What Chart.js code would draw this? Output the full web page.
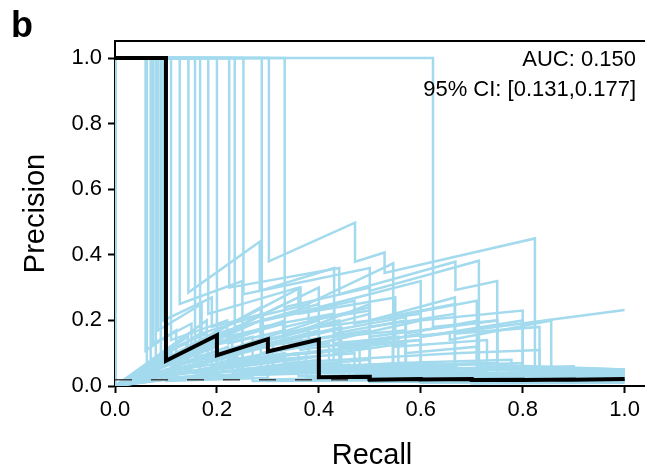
<!DOCTYPE html>
<html><head><meta charset="utf-8">
<script src="https://cdn.jsdelivr.net/npm/chart.js@4.4.0/dist/chart.umd.min.js"></script>
<style>html,body{margin:0;padding:0;background:#fff}#wrap{width:645px;height:472px;position:relative}</style>
</head><body><div id="wrap"><canvas id="c" width="645" height="472"></canvas></div>
<script>
// ---------------- data ----------------
const xTicks = [0, 0.2, 0.4, 0.6, 0.8, 1.0];
const yTicks = [0, 0.2, 0.4, 0.6, 0.8, 1.0];
const xLabel = "Recall";
const yLabel = "Precision";
const panelLabel = "b";
const annotation = ["AUC: 0.150", "95% CI: [0.131,0.177]"];
const baselinePrecision = 0.019;

// main precision-recall curve [recall, precision]
const mainCurve = [[0,1],[0.1,1],[0.1,0.077],[0.2,0.155],[0.2,0.094],[0.3,0.143],[0.3,0.105],[0.4,0.142],[0.4,0.027],[0.5,0.028],[0.5,0.019],[0.6,0.021],[0.6,0.02],[0.7,0.021],[0.7,0.018],[0.8,0.019],[0.8,0.018],[0.9,0.02],[0.9,0.019],[1,0.021]];

// bootstrap precision-recall curves [recall, precision]
const bootCurves = [
 [[0,1],[0.06,1],[0.06,0.108],[0.12,0.17],[0.12,0.1],[0.19,0.13],[0.19,0.06],[0.31,0.085],[0.31,0.04],[0.5,0.05],[0.5,0.03],[0.75,0.035],[0.75,0.025],[1,0.028]],
 [[0,1],[0.07,1],[0.07,0.08],[0.14,0.13],[0.14,0.075],[0.21,0.1],[0.21,0.045],[0.36,0.065],[0.36,0.03],[0.57,0.035],[0.57,0.02],[1,0.022]],
 [[0,1],[0.075,1],[0.075,0.13],[0.15,0.19],[0.15,0.12],[0.23,0.16],[0.23,0.1],[0.31,0.125],[0.31,0.05],[0.46,0.065],[0.46,0.03],[0.69,0.035],[0.69,0.025],[1,0.03]],
 [[0,1],[0.08,1],[0.08,0.06],[0.16,0.1],[0.16,0.07],[0.24,0.09],[0.24,0.05],[0.4,0.07],[0.4,0.03],[0.64,0.035],[0.64,0.018],[1,0.02]],
 [[0,1],[0.085,1],[0.085,0.17],[0.17,0.25],[0.17,0.16],[0.25,0.2],[0.25,0.12],[0.33,0.15],[0.33,0.11],[0.42,0.13],[0.42,0.05],[0.58,0.06],[0.58,0.03],[1,0.035]],
 [[0,1],[0.09,1],[0.09,0.1],[0.18,0.16],[0.18,0.12],[0.27,0.15],[0.27,0.08],[0.36,0.1],[0.36,0.04],[0.55,0.05],[0.55,0.025],[1,0.028]],
 [[0,1],[0.095,1],[0.095,0.2],[0.19,0.27],[0.19,0.18],[0.29,0.22],[0.29,0.14],[0.38,0.17],[0.38,0.1],[0.48,0.12],[0.48,0.04],[0.67,0.05],[0.67,0.03],[1,0.033]],
 [[0,1],[0.11,1],[0.11,0.14],[0.22,0.2],[0.22,0.15],[0.33,0.19],[0.33,0.16],[0.44,0.2],[0.44,0.06],[0.56,0.07],[0.56,0.03],[1,0.035]],
 [[0,1],[0.127,1],[0.127,0.25],[0.25,0.32],[0.25,0.2],[0.38,0.25],[0.38,0.2],[0.5,0.23],[0.5,0.06],[0.63,0.07],[0.63,0.03],[1,0.035]],
 [[0,1],[0.144,1],[0.144,0.285],[0.284,0.44],[0.284,0.29],[0.43,0.36],[0.43,0.15],[0.57,0.17],[0.57,0.05],[0.71,0.055],[0.71,0.03],[1,0.035]],
 [[0,1],[0.157,1],[0.157,0.09],[0.31,0.13],[0.31,0.08],[0.47,0.1],[0.47,0.04],[0.63,0.045],[0.63,0.02],[1,0.022]],
 [[0,1],[0.167,1],[0.167,0.12],[0.33,0.19],[0.33,0.13],[0.5,0.17],[0.5,0.05],[0.67,0.06],[0.67,0.025],[1,0.028]],
 [[0,1],[0.183,1],[0.183,0.22],[0.36,0.3],[0.36,0.22],[0.55,0.27],[0.55,0.12],[0.73,0.14],[0.73,0.04],[1,0.045]],
 [[0,1],[0.2,1],[0.2,0.16],[0.4,0.25],[0.4,0.18],[0.6,0.22],[0.6,0.06],[0.8,0.07],[0.8,0.03],[1,0.035]],
 [[0,1],[0.224,1],[0.224,0.3],[0.44,0.36],[0.44,0.28],[0.668,0.379],[0.668,0.293],[0.75,0.32],[0.75,0.064],[1,0.05]],
 [[0,1],[0.235,1],[0.235,0.18],[0.47,0.26],[0.47,0.19],[0.71,0.26],[0.71,0.05],[1,0.045]],
 [[0,1],[0.252,1],[0.252,0.28],[0.5,0.36],[0.5,0.29],[0.714,0.382],[0.714,0.06],[1,0.05]],
 [[0,1],[0.288,1],[0.288,0.2],[0.43,0.25],[0.43,0.16],[0.57,0.2],[0.57,0.1],[0.71,0.12],[0.71,0.04],[1,0.04]],
 [[0,1],[0.302,1],[0.302,0.38],[0.471,0.498],[0.471,0.379],[0.529,0.407],[0.529,0.345],[0.824,0.45],[0.824,0.049],[1,0.045]],
 [[0,1],[0.333,1],[0.333,0.24],[0.5,0.3],[0.5,0.2],[0.667,0.25],[0.667,0.1],[0.833,0.11],[0.833,0.04],[1,0.04]],
 [[0,1],[0.624,1],[0.624,0.18],[0.75,0.2],[0.75,0.05],[0.875,0.055],[0.875,0.035],[1,0.038]],
 [[0,1],[0.1,1],[0.1,0.07],[0.2,0.12],[0.2,0.06],[0.3,0.08],[0.3,0.04],[0.5,0.05],[0.5,0.025],[1,0.028]],
 [[0,1],[0.0625,1],[0.0625,0.05],[0.125,0.08],[0.125,0.05],[0.25,0.08],[0.25,0.04],[0.375,0.05],[0.375,0.025],[1,0.022]],
 [[0,1],[0,0],[0.1,0.05],[0.1,0.03],[0.2,0.05],[0.2,0.03],[0.4,0.04],[0.4,0.02],[1,0.018]],
 [[0,1],[0,0],[0.125,0.1],[0.125,0.07],[0.25,0.11],[0.25,0.08],[0.375,0.1],[0.375,0.04],[0.625,0.045],[0.625,0.02],[1,0.02]],
 [[0,1],[0,0],[0.143,0.15],[0.143,0.1],[0.286,0.17],[0.286,0.12],[0.429,0.15],[0.429,0.05],[0.714,0.055],[0.714,0.025],[1,0.025]],
 [[0,1],[0,0],[0.18,0.2],[0.18,0.15],[0.364,0.3],[0.364,0.24],[0.546,0.374],[0.546,0.04],[0.727,0.045],[0.727,0.03],[1,0.032]],
 [[0,1],[0,0],[0.167,0.07],[0.167,0.05],[0.333,0.09],[0.333,0.06],[0.5,0.08],[0.5,0.03],[1,0.03]],
 [[0,1],[0,0],[0.111,0.08],[0.111,0.05],[0.222,0.09],[0.222,0.07],[0.333,0.1],[0.333,0.05],[0.444,0.07],[0.444,0.03],[0.667,0.035],[0.667,0.02],[1,0.022]],
 [[0,1],[0,0],[0.2,0.12],[0.2,0.09],[0.4,0.17],[0.4,0.13],[0.6,0.2],[0.6,0.15],[0.8,0.2],[0.8,0.04],[1,0.04]],
 [[0,1],[0,0],[0.25,0.18],[0.25,0.12],[0.5,0.22],[0.5,0.15],[0.75,0.2],[0.75,0.04],[1,0.042]],
 [[0,1],[0,0],[0.143,0.06],[0.143,0.04],[0.286,0.07],[0.286,0.05],[0.571,0.07],[0.571,0.025],[1,0.026]],
 [[0,1],[0,0],[0.2,0.08],[0.2,0.05],[0.4,0.09],[0.4,0.04],[0.6,0.05],[0.6,0.022],[1,0.024]],
 [[0,1],[0,0],[0.286,0.2],[0.286,0.12],[0.429,0.17],[0.429,0.13],[0.657,0.162],[0.657,0.14],[0.856,0.2],[0.856,0.044],[1,0.045]],
 [[0,1],[0,0],[0.2,0.1],[0.2,0.07],[0.4,0.13],[0.4,0.1],[0.6,0.16],[0.6,0.15],[1,0.232]],
 [[0,1],[0,0],[0.1,0.04],[0.1,0.025],[0.3,0.04],[0.3,0.02],[0.5,0.025],[0.5,0.012],[1,0.015]],
 [[0,1],[0,0],[0.09,0.03],[0.09,0.02],[0.27,0.03],[0.27,0.015],[0.6,0.02],[0.6,0.01],[1,0.012]],
 [[0,1],[0,0],[0.25,0.1],[0.25,0.08],[0.5,0.12],[0.5,0.06],[0.75,0.07],[0.75,0.03],[1,0.032]],
 [[0,1],[0,0],[0.167,0.16],[0.167,0.11],[0.333,0.2],[0.333,0.15],[0.5,0.25],[0.5,0.18],[0.667,0.22],[0.667,0.05],[1,0.045]],
 [[0,1],[0,0],[0.333,0.25],[0.333,0.18],[0.5,0.24],[0.5,0.2],[0.667,0.27],[0.667,0.16],[0.833,0.18],[0.833,0.05],[1,0.05]],
 [[0,1],[0,0],[0.3,0.12],[0.3,0.09],[0.6,0.14],[0.6,0.05],[0.9,0.06],[0.9,0.03],[1,0.033]],
 [[0,1],[0,0],[0.4,0.3],[0.4,0.24],[0.6,0.32],[0.6,0.2],[0.8,0.23],[0.8,0.04],[1,0.04]],
 [[0,1],[0,0],[0.15,0.05],[0.15,0.04],[0.45,0.06],[0.45,0.02],[1,0.02]],
 [[0,1],[0,0],[0.111,0.1],[0.111,0.06],[0.222,0.12],[0.222,0.08],[0.444,0.11],[0.444,0.05],[0.667,0.06],[0.667,0.03],[1,0.03]],
 [[0,1],[0,0],[0.077,0.04],[0.077,0.03],[0.231,0.06],[0.231,0.04],[0.385,0.06],[0.385,0.03],[0.692,0.035],[0.692,0.02],[1,0.021]],
 [[0,1],[0,0],[0.125,0.06],[0.125,0.04],[0.25,0.07],[0.25,0.05],[0.375,0.07],[0.375,0.05],[0.5,0.06],[0.5,0.035],[0.75,0.04],[0.75,0.025],[1,0.026]],
 [[0,1],[0,0],[0.2,0.15],[0.2,0.1],[0.4,0.2],[0.4,0.12],[0.6,0.14],[0.6,0.04],[1,0.038]],
 [[0,1],[0,0],[0.182,0.12],[0.182,0.08],[0.364,0.15],[0.364,0.11],[0.545,0.15],[0.545,0.06],[0.727,0.07],[0.727,0.03],[1,0.03]],
 [[0,1],[0,0],[0.143,0.09],[0.143,0.07],[0.286,0.12],[0.286,0.1],[0.429,0.14],[0.429,0.1],[0.571,0.13],[0.571,0.04],[1,0.036]],
 [[0,1],[0,0],[0.25,0.05],[0.25,0.035],[0.5,0.05],[0.5,0.02],[1,0.02]],
 [[0,1],[0,0],[0.333,0.1],[0.333,0.07],[0.667,0.1],[0.667,0.03],[1,0.03]],
 [[0,1],[0,0],[0.286,0.24],[0.286,0.18],[0.429,0.22],[0.429,0.17],[0.571,0.21],[0.571,0.16],[0.714,0.2],[0.714,0.06],[1,0.05]],
 [[0,1],[0,0],[0.222,0.17],[0.222,0.13],[0.333,0.17],[0.333,0.14],[0.444,0.18],[0.444,0.12],[0.556,0.15],[0.556,0.07],[0.778,0.08],[0.778,0.035],[1,0.035]],
 [[0,1],[0,0],[0.1,0.02],[0.1,0.015],[0.3,0.025],[0.3,0.015],[0.7,0.02],[0.7,0.008],[1,0.01]],
 [[0,1],[0,0],[0.4,0.08],[0.4,0.05],[0.6,0.06],[0.6,0.03],[0.8,0.035],[0.8,0.015],[1,0.016]],
 [[0,1],[0,0],[0.0833,0.06],[0.0833,0.04],[0.1667,0.07],[0.1667,0.05],[0.333,0.08],[0.333,0.05],[0.5,0.06],[0.5,0.04],[0.667,0.045],[0.667,0.03],[1,0.03]]
];

// ---------------- chart ----------------
const FONT = '"Liberation Sans", Arial, Helvetica, sans-serif';
const toXY = c => c.map(p => ({x: p[0], y: p[1]}));
const datasets = [];
bootCurves.forEach(c => datasets.push({
  data: toXY(c), borderColor: 'rgb(164,218,238)', borderWidth: 2.5, pointRadius: 0,
  showLine: true, fill: false, tension: 0, order: 3
}));
datasets.push({
  data: [{x: 0, y: baselinePrecision}, {x: 1, y: baselinePrecision}],
  borderColor: '#444', borderWidth: 1.5, borderDash: [17, 19], pointRadius: 0,
  showLine: true, fill: false, order: 2
});
datasets.push({
  data: toXY(mainCurve), borderColor: '#000', borderWidth: 4, pointRadius: 0,
  showLine: true, fill: false, tension: 0, order: 1, borderJoinStyle: 'miter'
});

const decor = {
  id: 'decor',
  afterDraw(chart) {
    const ctx = chart.ctx, a = chart.chartArea;
    ctx.save();
    ctx.strokeStyle = '#000'; ctx.lineWidth = 2;
    ctx.beginPath(); ctx.moveTo(a.left - 1, a.top); ctx.lineTo(a.right, a.top); ctx.stroke();
    ctx.fillStyle = '#000';
    ctx.font = '29px ' + FONT;
    ctx.textAlign = 'center'; ctx.textBaseline = 'middle';
    ctx.fillText(xLabel, 372, 456);
    ctx.save(); ctx.translate(36, (a.top + a.bottom) / 2); ctx.rotate(-Math.PI / 2);
    ctx.fillText(yLabel, 0, 0); ctx.restore();
    ctx.font = 'bold 36px ' + FONT;
    ctx.textAlign = 'left'; ctx.textBaseline = 'alphabetic';
    ctx.fillText(panelLabel, 11, 37);
    ctx.font = '22px ' + FONT;
    ctx.textAlign = 'right';
    ctx.fillText(annotation[0], 636, 66);
    ctx.fillText(annotation[1], 636, 96);
    ctx.restore();
  }
};

const axisCommon = {
  type: 'linear',
  grid: {display: true, drawOnChartArea: false, drawTicks: true, tickLength: 7, tickWidth: 2, tickColor: '#000'},
  border: {display: true, color: '#000', width: 2},
  ticks: {color: '#000', font: {family: FONT, size: 22}, callback: v => Number(v).toFixed(1)}
};

new Chart(document.getElementById('c'), {
  type: 'scatter',
  data: {datasets},
  options: {
    responsive: false, devicePixelRatio: 1, animation: false,
    layout: {padding: {top: 41, right: 0, left: 0, bottom: 0}},
    plugins: {legend: {display: false}, tooltip: {enabled: false}},
    scales: {
      x: Object.assign({}, axisCommon, {
        min: 0, max: 1.04,
        afterBuildTicks: s => { s.ticks = xTicks.map(v => ({value: v})); },
        afterFit: s => { s.height = 86; },
        ticks: Object.assign({}, axisCommon.ticks, {padding: 4, maxRotation: 0})
      }),
      y: Object.assign({}, axisCommon, {
        min: 0, max: 1.052,
        afterBuildTicks: s => { s.ticks = yTicks.map(v => ({value: v})); },
        afterFit: s => { s.width = 115; },
        ticks: Object.assign({}, axisCommon.ticks, {padding: 6})
      })
    }
  },
  plugins: [decor]
});
</script>
</body></html>
